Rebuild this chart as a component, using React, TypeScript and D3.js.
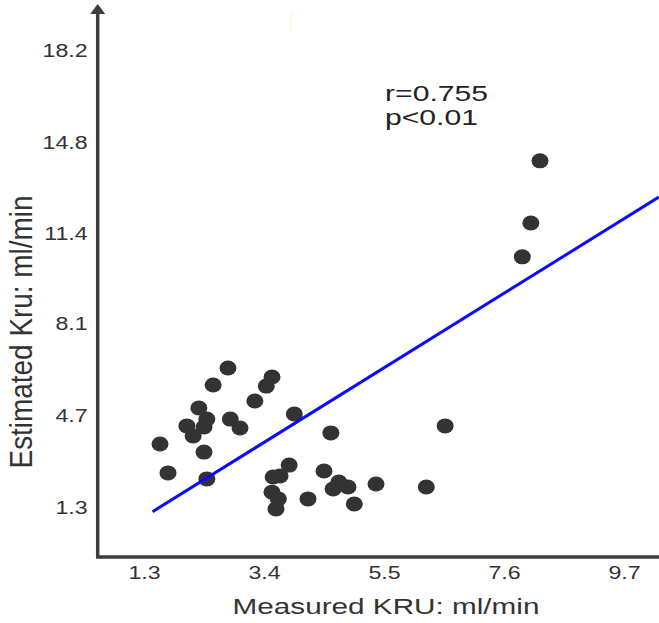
import React, { useEffect, useRef } from 'react';
import * as d3 from 'd3';

// tick labels as printed on the chart
const xTicks = [1.3, 3.4, 5.5, 7.6, 9.7];
const yTicks = [1.3, 4.7, 8.1, 11.4, 14.8, 18.2];

const measured = [
  8.23, 8.07, 7.92, 6.57, 2.77, 2.51, 3.54, 3.44, 3.24, 3.93, 2.26, 2.4,
  2.35, 2.05, 2.16, 2.81, 2.98, 1.58, 2.35, 1.72, 2.4, 4.57, 3.84, 3.56,
  3.68, 3.54, 3.65, 3.61, 4.17, 4.45, 4.71, 4.61, 4.87, 4.98, 5.36, 6.24,
];
const estimated = [
  14.1, 11.8, 10.55, 4.3, 6.44, 5.81, 6.11, 5.77, 5.22, 4.74, 4.96, 4.55,
  4.26, 4.3, 3.93, 4.55, 4.22, 3.63, 3.33, 2.56, 2.34, 4.04, 2.85, 2.41,
  2.45, 1.85, 1.6, 1.23, 1.6, 2.63, 2.22, 1.97, 2.04, 1.41, 2.15, 2.04,
];

// regression line
const fitSlope = 1.313;
const fitIntercept = -0.776;
const fitRange = [1.45, 10.31];

const statLines = ['r=0.755', 'p<0.01'];

const W = 659;
const H = 623;
const axisX = 97.7;
const axisY = 557;
const font = 'Liberation Sans, Arial, sans-serif';
const ink = '#333';

export default function App() {
  const xAxisRef = useRef<SVGGElement>(null);
  const yAxisRef = useRef<SVGGElement>(null);

  const x = d3.scaleLinear().domain([1.3, 9.7]).range([144, 624]);
  const y = d3.scaleLinear().domain([1.3, 18.2]).range([507, 50]);

  useEffect(() => {
    const gx = d3.select(xAxisRef.current);
    gx.call(
      d3.axisBottom(x).tickValues(xTicks).tickSize(0).tickPadding(9).tickFormat(d3.format('.1f'))
    );
    gx.select('.domain').remove();
    gx.selectAll('text')
      .attr('font-size', 19)
      .attr('font-family', font)
      .attr('fill', ink)
      .attr('transform', 'scale(1.22,1)');

    const gy = d3.select(yAxisRef.current);
    gy.call(
      d3.axisLeft(y).tickValues(yTicks).tickSize(0).tickPadding(8.2).tickFormat(d3.format('.1f'))
    );
    gy.select('.domain').remove();
    gy.selectAll('text')
      .attr('font-size', 19)
      .attr('font-family', font)
      .attr('fill', ink)
      .attr('transform', 'scale(1.22,1)');
  }, []);

  const fit = d3
    .line<number>()
    .x((d) => x(d))
    .y((d) => y(fitSlope * d + fitIntercept));

  return (
    <svg
      width={W}
      height={H}
      style={{ position: 'absolute', left: 0, top: 0, background: '#fff' }}
    >
      <rect x={290} y={13} width={2} height={18} fill="#fffbd2" />

      {/* axes */}
      <line x1={axisX} y1={axisY} x2={axisX} y2={12} stroke="#3d3d3d" strokeWidth={3.5} />
      <path d={`M${axisX},4 L${axisX - 7.5},14 L${axisX + 7.5},14 Z`} fill="#3d3d3d" />
      <line x1={axisX - 1.7} y1={axisY} x2={W} y2={axisY} stroke="#3d3d3d" strokeWidth={3.5} />
      <g ref={xAxisRef} transform={`translate(0,${axisY})`} />
      <g ref={yAxisRef} transform={`translate(${axisX},0)`} />

      {/* points */}
      <g fill={ink}>
        {measured.map((m, i) => (
          <ellipse key={i} cx={x(m)} cy={y(estimated[i])} rx={8.5} ry={7.5} />
        ))}
      </g>

      <path d={fit(fitRange) || ''} fill="none" stroke="#0a0aff" strokeWidth={3} />

      {statLines.map((s, i) => (
        <text
          key={s}
          transform={`translate(385,${101 + i * 24}) scale(1.37,1)`}
          fontFamily={font}
          fontSize={22}
          fill="#222"
        >
          {s}
        </text>
      ))}

      <text
        transform={`translate(386,614) scale(1.35,1)`}
        textAnchor="middle"
        fontFamily={font}
        fontSize={22}
        fill={ink}
      >
        Measured KRU: ml/min
      </text>
      <text
        transform={`translate(32,332) rotate(-90) scale(1,1.4)`}
        textAnchor="middle"
        fontFamily={font}
        fontSize={23}
        textLength={273}
        lengthAdjust="spacingAndGlyphs"
        fill={ink}
      >
        Estimated Kru: ml/min
      </text>
    </svg>
  );
}
